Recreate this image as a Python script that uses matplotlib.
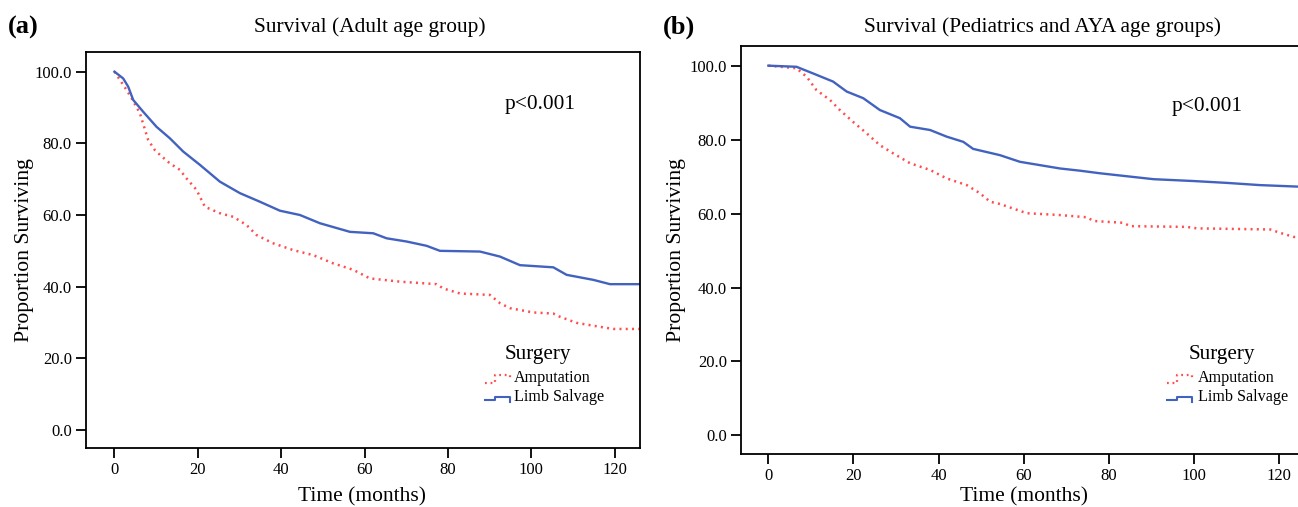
import matplotlib
matplotlib.use("Agg")
import matplotlib.pyplot as plt

plt.rcParams['font.family'] = ['Liberation Serif', 'DejaVu Serif']

# ---- data (months, % surviving) ----
a_amp_t = [0, 2.9, 4.1, 6.1, 8.1, 9.7, 10.9, 13.3, 15.7, 17.3, 19.7, 21.7, 25.3, 28.5,
           31.7, 34.1, 38.1, 42.9, 47.7, 52.5, 57.3, 61.3, 68.5, 77.3, 78.9, 82.9,
           90.1, 92.5, 94.9, 100.5, 105.3, 106.9, 110.9, 116.5, 119.7, 126]
a_amp_v = [100, 94.9, 92.6, 88.4, 80.9, 78.1, 76.8, 74.4, 72.6, 70.2, 67.0, 62.3, 60.5,
           59.5, 57.2, 54.4, 52.1, 50.2, 48.8, 46.5, 44.7, 42.3, 41.4, 40.7, 39.5, 38.1,
           37.7, 35.4, 34.0, 32.8, 32.5, 31.6, 29.9, 28.8, 28.2, 28.2]
a_limb_t = [0, 2.1, 3.3, 4.5, 6.9, 10.1, 13.3, 16.5, 20.5, 25.3, 30.1, 34.9, 39.7, 44.5,
            49.3, 56.5, 62.1, 65.3, 70.1, 74.9, 78.1, 87.7, 92.5, 97.3, 105.3, 108.5,
            114.9, 118.9, 126]
a_limb_v = [100, 98.1, 95.8, 92.1, 88.8, 84.6, 81.4, 77.7, 74.0, 69.3, 66.1, 63.7, 61.2,
            60.0, 57.7, 55.3, 54.9, 53.5, 52.6, 51.4, 50.0, 49.8, 48.4, 46.0, 45.4, 43.3,
            41.9, 40.7, 40.7]

b_amp_t = [0, 6.6, 9.0, 11.3, 14.5, 16.8, 19.9, 23.1, 26.2, 29.3, 33.3, 38.0, 41.9, 46.6,
           49.7, 52.1, 54.4, 60.7, 68.5, 74.8, 76.4, 83.4, 85.0, 98.3, 100.7, 117.9,
           120.2, 123.4, 125]
b_amp_v = [100, 99.3, 97.0, 93.4, 90.7, 88.0, 84.8, 81.7, 78.5, 76.3, 73.6, 71.8, 69.5,
           67.7, 65.5, 63.2, 62.6, 60.1, 59.6, 59.0, 58.0, 57.5, 56.6, 56.4, 56.0, 55.7,
           54.8, 53.7, 53.5]
b_limb_t = [0, 6.6, 10.5, 15.2, 18.4, 22.3, 26.2, 30.9, 33.3, 38.0, 41.9, 45.8, 48.1,
            54.4, 59.1, 63.8, 68.5, 73.2, 77.9, 83.4, 90.5, 99.9, 107.7, 115.5, 124.2, 125]
b_limb_v = [100, 99.7, 97.9, 95.7, 93.0, 91.2, 88.0, 85.8, 83.5, 82.6, 80.8, 79.4, 77.5,
            75.8, 74.0, 73.1, 72.2, 71.6, 70.9, 70.2, 69.3, 68.8, 68.3, 67.7, 67.3, 67.3]

xticks = [0, 20, 40, 60, 80, 100, 120]
yticks = [0, 20, 40, 60, 80, 100]
groups = ["Amputation", "Limb Salvage"]

RED = "#FF4D4D"
BLUE = "#4262C0"
W, H = 1298, 507

fig = plt.figure(figsize=(W / 100, H / 100), dpi=100)


def box(x0, x1, ytop, ybot):
    # pixel box -> figure fraction rect
    return [x0 / W, 1 - ybot / H, (x1 - x0) / W, (ybot - ytop) / H]


def fpos(x, y):
    return x / W, 1 - y / H


ax1 = fig.add_axes(box(85.7, 640, 52.3, 448.3))
ax2 = fig.add_axes(box(740.7, 1300, 45.7, 454.3))

panels = [
    (ax1, a_amp_t, a_amp_v, a_limb_t, a_limb_v, (-6.9, 126.1)),
    (ax2, b_amp_t, b_amp_v, b_limb_t, b_limb_v, (-6.5, 124.9)),
]
for ax, at, av, lt, lv, xl in panels:
    ax.plot(at, av, color=RED, lw=1.8, linestyle=(0, (0.8, 1.7)))
    ax.plot(lt, lv, color=BLUE, lw=1.7)
    ax.set_xlim(*xl)
    ax.set_ylim(-5.1, 105.4)
    ax.set_xticks(xticks)
    ax.set_yticks(yticks)
    ax.set_yticklabels([f"{v:.1f}" for v in yticks])
    ax.tick_params(direction='out', length=7, width=1.3, labelsize=12, pad=3)
    for s in ax.spines.values():
        s.set_linewidth(1.3)

# titles, labels, annotations
fig.text(*fpos(8, 27), "(a)", fontsize=19, fontweight='bold', va='center', ha='left')
fig.text(*fpos(663, 27), "(b)", fontsize=19, fontweight='bold', va='center', ha='left')
fig.text(*fpos(370, 27), "Survival (Adult age group)", fontsize=15.4, ha='center', va='center')
fig.text(*fpos(1043, 27), "Survival (Pediatrics and AYA age groups)", fontsize=15.4,
         ha='center', va='center')
fig.text(*fpos(24, 250), "Proportion Surviving", fontsize=15.6, rotation=90,
         ha='center', va='center')
fig.text(*fpos(677, 250), "Proportion Surviving", fontsize=15.6, rotation=90,
         ha='center', va='center')
fig.text(*fpos(362, 497), "Time (months)", fontsize=15.5, ha='center', va='center')
fig.text(*fpos(1024, 497), "Time (months)", fontsize=15.5, ha='center', va='center')
fig.text(*fpos(540, 105), "p<0.001", fontsize=15.4, ha='center', va='center')
fig.text(*fpos(1207, 107), "p<0.001", fontsize=15.4, ha='center', va='center')

# legends drawn by hand (SPSS style step handles)
for (sx, hx, tx) in [(538, 485, 514), (1222, 1167, 1198)]:
    fig.text(*fpos(sx, 355), "Surgery", fontsize=15.2, ha='center', va='center')
    fig.text(*fpos(tx, 378), groups[0], fontsize=11.6, ha='left', va='center')
    fig.text(*fpos(tx, 397), groups[1], fontsize=11.6, ha='left', va='center')
    hx1 = hx + 25
    xs = [hx, hx + 10, hx + 10, hx1, hx1]
    fig.add_artist(plt.Line2D([fpos(x, 0)[0] for x in xs],
                              [fpos(0, y)[1] for y in [383, 383, 375, 375, 379]],
                              color=RED, lw=1.6, linestyle=(0, (0.8, 1.7))))
    fig.add_artist(plt.Line2D([fpos(x, 0)[0] for x in xs],
                              [fpos(0, y)[1] for y in [400, 400, 396.5, 396.5, 401.5]],
                              color=BLUE, lw=1.5))

fig.savefig("out.png", dpi=100)
